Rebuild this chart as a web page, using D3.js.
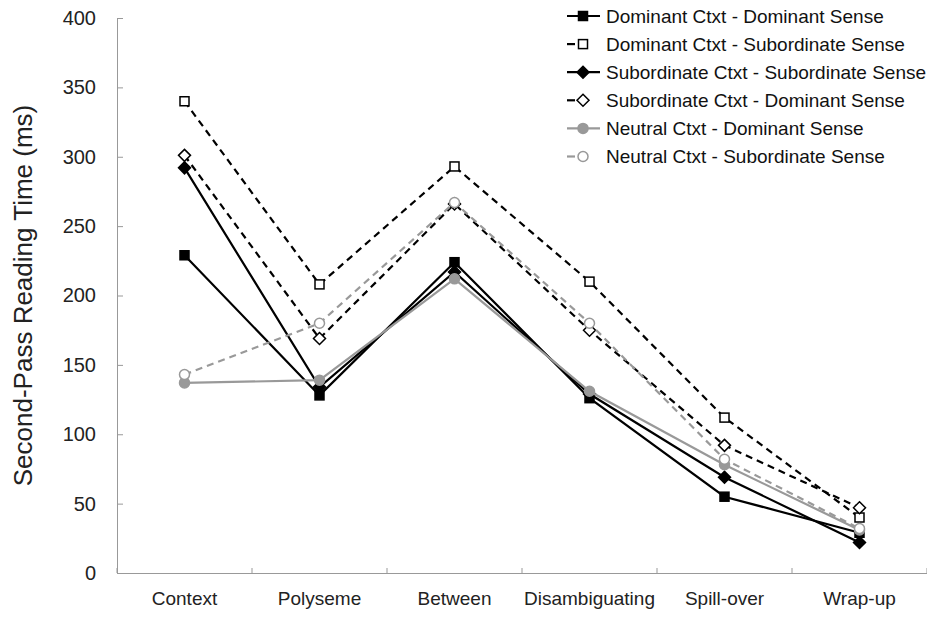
<!DOCTYPE html>
<html>
<head>
<meta charset="utf-8">
<script src="https://cdn.jsdelivr.net/npm/d3@7"></script>
<style>
  body { margin: 0; background: #fff; }
  svg { font-family: Arial, "Liberation Sans", sans-serif; }
</style>
</head>
<body>
<div id="chart"></div>
<script>
// chart values
var categories = ["Context", "Polyseme", "Between", "Disambiguating", "Spill-over", "Wrap-up"];
var yTicks = [0, 50, 100, 150, 200, 250, 300, 350, 400];

var domDom = [229, 128, 224, 126, 55, 29];
var domSub = [340, 208, 293, 210, 112, 40];
var subSub = [292, 134, 217, 129, 69, 22];
var subDom = [301, 169, 266, 175, 92, 47];
var neuDom = [137, 139, 212, 131, 78, 31];
var neuSub = [143, 180, 267, 180, 82, 32];

var seriesNames = [
  "Dominant Ctxt - Dominant Sense",
  "Dominant Ctxt - Subordinate Sense",
  "Subordinate Ctxt - Subordinate Sense",
  "Subordinate Ctxt - Dominant Sense",
  "Neutral Ctxt - Dominant Sense",
  "Neutral Ctxt - Subordinate Sense"
];

var svgWidth = 927;
var svgHeight = 622;

var margin = { top: 18, right: 0, bottom: 49, left: 117 };
var width = svgWidth - margin.left - margin.right;
var height = svgHeight - margin.top - margin.bottom;

// styles per series: colour, dashed, marker shape, filled
var styles = [
  { color: "#000", dash: null, shape: "square", fill: true },
  { color: "#000", dash: "7,5", shape: "square", fill: false },
  { color: "#000", dash: null, shape: "diamond", fill: true },
  { color: "#000", dash: "7,5", shape: "diamond", fill: false },
  { color: "#999", dash: null, shape: "circle", fill: true },
  { color: "#999", dash: "7,5", shape: "circle", fill: false }
];
var allValues = [domDom, domSub, subSub, subDom, neuDom, neuSub];

var svg = d3.select("#chart")
  .append("svg")
  .attr("width", svgWidth)
  .attr("height", svgHeight);

var chartGroup = svg.append("g")
  .attr("transform", `translate(${margin.left}, ${margin.top})`);

var xScale = d3.scaleBand()
  .domain(categories)
  .range([0, width]);

var yScale = d3.scaleLinear()
  .domain([0, 400])
  .range([height, 0]);

var cx = d => xScale(d) + xScale.bandwidth() / 2;

// y axis with inside ticks
var leftAxis = d3.axisLeft(yScale)
  .tickValues(yTicks)
  .tickSize(-6)
  .tickSizeOuter(0)
  .tickPadding(21);

var yAxis = chartGroup.append("g").call(leftAxis);
yAxis.select(".domain").attr("stroke", "#999");
yAxis.selectAll(".tick line").attr("stroke", "#999");
yAxis.selectAll("text")
  .attr("font-size", "20px")
  .attr("fill", "#222");

// x axis: labels only, ticks at band boundaries
var bottomAxis = d3.axisBottom(xScale).tickSize(0).tickPadding(19);
var xAxis = chartGroup.append("g")
  .attr("transform", `translate(0, ${height})`)
  .call(bottomAxis);
xAxis.select(".domain").attr("stroke", "#999");
xAxis.selectAll("text")
  .attr("font-size", "19px")
  .attr("fill", "#222");

xAxis.selectAll(".bound")
  .data(d3.range(categories.length + 1))
  .enter()
  .append("line")
  .attr("x1", i => i * xScale.bandwidth())
  .attr("x2", i => i * xScale.bandwidth())
  .attr("y1", 0)
  .attr("y2", -5)
  .attr("stroke", "#999");

// y axis title
svg.append("text")
  .attr("transform", `translate(32, ${margin.top + height / 2}) rotate(-90)`)
  .attr("text-anchor", "middle")
  .attr("font-size", "26px")
  .attr("fill", "#222")
  .text("Second-Pass Reading Time (ms)");

function drawMarker(g, st, x, y) {
  var fill = st.fill ? st.color : "#fff";
  if (st.shape === "square") {
    g.append("rect")
      .attr("x", x - 4.5).attr("y", y - 4.5)
      .attr("width", 9).attr("height", 9)
      .attr("fill", fill)
      .attr("stroke", st.color).attr("stroke-width", 1.5);
  } else if (st.shape === "diamond") {
    g.append("path")
      .attr("d", `M${x},${y - 6}L${x + 6},${y}L${x},${y + 6}L${x - 6},${y}Z`)
      .attr("fill", fill)
      .attr("stroke", st.color).attr("stroke-width", 1.5);
  } else {
    g.append("circle")
      .attr("cx", x).attr("cy", y).attr("r", 5)
      .attr("fill", fill)
      .attr("stroke", st.color).attr("stroke-width", 1.5);
  }
}

var line = d3.line()
  .x((d, i) => cx(categories[i]))
  .y(d => yScale(d));

allValues.forEach(function(vals, s) {
  var st = styles[s];
  var g = chartGroup.append("g");
  g.append("path")
    .datum(vals)
    .attr("d", line)
    .attr("fill", "none")
    .attr("stroke", st.color)
    .attr("stroke-width", 2.2)
    .attr("stroke-dasharray", st.dash);
  vals.forEach(function(v, i) {
    drawMarker(g, st, cx(categories[i]), yScale(v));
  });
});

// legend
var legend = svg.append("g");
seriesNames.forEach(function(name, s) {
  var st = styles[s];
  var y = 16 + s * 28.1;
  legend.append("line")
    .attr("x1", 567).attr("x2", st.dash ? 575 : 600)
    .attr("y1", y).attr("y2", y)
    .attr("stroke", st.color)
    .attr("stroke-width", 2.2);
  drawMarker(legend, st, 583, y);
  legend.append("text")
    .attr("x", 606)
    .attr("y", y)
    .attr("dy", "0.35em")
    .attr("font-size", "19px")
    .attr("fill", "#111")
    .text(name);
});
</script>
</body>
</html>
